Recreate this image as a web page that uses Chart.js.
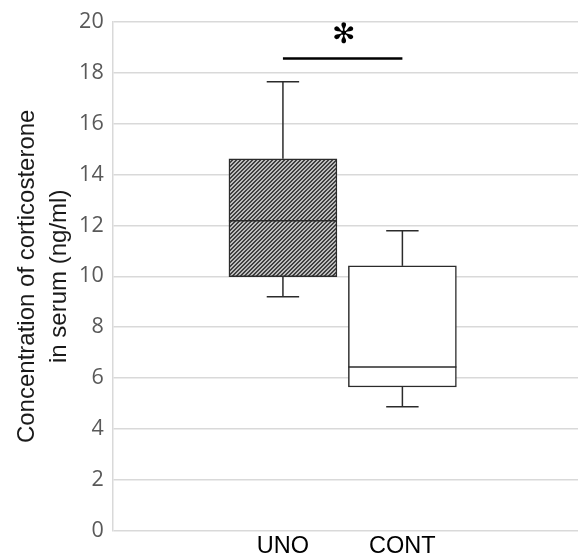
<!DOCTYPE html>
<html>
<head>
<meta charset="utf-8">
<script src="https://cdn.jsdelivr.net/npm/chart.js@4/dist/chart.umd.min.js"></script>
<style>
  body { margin: 0; background: #fff; }
  canvas { display: block; }
</style>
</head>
<body>
<canvas id="myChart" width="578" height="557"></canvas>
<script>
// box plot values (ng/ml)
const groups = ['UNO', 'CONT'];
const whiskerLow = [9.2, 4.87];
const q1 = [9.99, 5.65];
const median = [12.18, 6.43];
const q3 = [14.62, 10.41];
const whiskerHigh = [17.65, 11.79];
const yTicks = [0, 2, 4, 6, 8, 10, 12, 14, 16, 18, 20];
const sigLevel = 18.56;
const sigMark = '\u273B';

// diagonal hatch for the UNO box
const makeHatch = () => {
    const c = document.createElement('canvas');
    c.width = 4; c.height = 4;
    const g = c.getContext('2d');
    g.fillStyle = '#bdbdbd';
    g.fillRect(0, 0, 4, 4);
    g.fillStyle = '#404040';
    for (let i = 0; i < 4; i++) {
        g.fillRect(i, 3 - i, 1, 1);
        g.fillRect(i, (4 - i) % 4, 1, 1);
    }
    return g.createPattern(c, 'repeat');
};

const boxExtras = {
    id: 'boxExtras',
    afterDatasetsDraw(chart) {
        const ctx = chart.ctx;
        const y = chart.scales.y;
        const bars = chart.getDatasetMeta(0).data;
        ctx.save();
        ctx.strokeStyle = '#2b2b2b';
        ctx.lineWidth = 1.5;
        bars.forEach((bar, i) => {
            const half = bar.width / 2;
            const cap = bar.width * 0.15;
            const line = (x1, y1, x2, y2) => {
                ctx.beginPath();
                ctx.moveTo(x1, y1);
                ctx.lineTo(x2, y2);
                ctx.stroke();
            };
            // whiskers
            line(bar.x, y.getPixelForValue(q3[i]), bar.x, y.getPixelForValue(whiskerHigh[i]));
            line(bar.x - cap, y.getPixelForValue(whiskerHigh[i]), bar.x + cap, y.getPixelForValue(whiskerHigh[i]));
            line(bar.x, y.getPixelForValue(q1[i]), bar.x, y.getPixelForValue(whiskerLow[i]));
            line(bar.x - cap, y.getPixelForValue(whiskerLow[i]), bar.x + cap, y.getPixelForValue(whiskerLow[i]));
            // median
            line(bar.x - half, y.getPixelForValue(median[i]), bar.x + half, y.getPixelForValue(median[i]));
        });
        // significance bar and star
        const ys = y.getPixelForValue(sigLevel);
        ctx.strokeStyle = '#000';
        ctx.lineWidth = 2.5;
        ctx.beginPath();
        ctx.moveTo(bars[0].x, ys);
        ctx.lineTo(bars[1].x, ys);
        ctx.stroke();
        ctx.fillStyle = '#000';
        ctx.font = 'bold 28px "DejaVu Sans"';
        ctx.textAlign = 'center';
        ctx.textBaseline = 'middle';
        ctx.fillText(sigMark, (bars[0].x + bars[1].x) / 2 + 1, ys - 23);
        ctx.restore();
    }
};

const renderBoxPlot = () => {
    const ctx = document.getElementById('myChart').getContext('2d');
    const hatch = makeHatch();
    new Chart(ctx, {
        type: 'bar',
        data: {
            datasets: [{
                label: 'Concentration of corticosterone',
                data: groups.map((g, i) => ({ x: i + 1, y: [q1[i], q3[i]] })),
                backgroundColor: [hatch, '#ffffff'],
                borderColor: '#2b2b2b',
                borderWidth: 1.5,
                borderSkipped: false,
                barThickness: 108
            }]
        },
        options: {
            responsive: false,
            animation: false,
            layout: { padding: { top: 21, right: 0, left: 0, bottom: 0 } },
            plugins: {
                legend: { display: false },
                tooltip: { enabled: false }
            },
            scales: {
                x: {
                    type: 'linear',
                    offset: false,
                    bounds: 'data',
                    min: -0.425,
                    max: 3.47,
                    afterBuildTicks: (axis) => {
                        axis.ticks = groups.map((g, i) => ({ value: i + 1 }));
                    },
                    afterFit: (axis) => { axis.height = 26.3; },
                    ticks: {
                        callback: (v) => groups[v - 1] || '',
                        color: '#000',
                        font: { family: '"Liberation Sans", Arial, sans-serif', size: 23.5, lineHeight: 1.0 },
                        padding: 4.5,
                        maxRotation: 0,
                        autoSkip: false
                    },
                    grid: { display: false, drawTicks: false, offset: false },
                    border: { display: false }
                },
                y: {
                    min: 0,
                    max: 20,
                    afterBuildTicks: (axis) => {
                        axis.ticks = yTicks.map(v => ({ value: v }));
                    },
                    afterFit: (axis) => { axis.width = 112.7; },
                    ticks: {
                        color: '#595959',
                        font: { family: '"Open Sans", sans-serif', size: 21.5 },
                        padding: 9
                    },
                    grid: { color: '#d9d9d9', lineWidth: 1.5, drawTicks: false },
                    border: { color: '#d9d9d9', width: 1.5 },
                    title: {
                        display: true,
                        text: ['Concentration of corticosterone', 'in serum (ng/ml)'],
                        color: '#1a1a1a',
                        font: { family: '"Liberation Sans", Arial, sans-serif', size: 24, lineHeight: 1.35 },
                        padding: { top: 11, bottom: 0 }
                    }
                }
            }
        },
        plugins: [boxExtras]
    });
};
renderBoxPlot();
</script>
</body>
</html>
